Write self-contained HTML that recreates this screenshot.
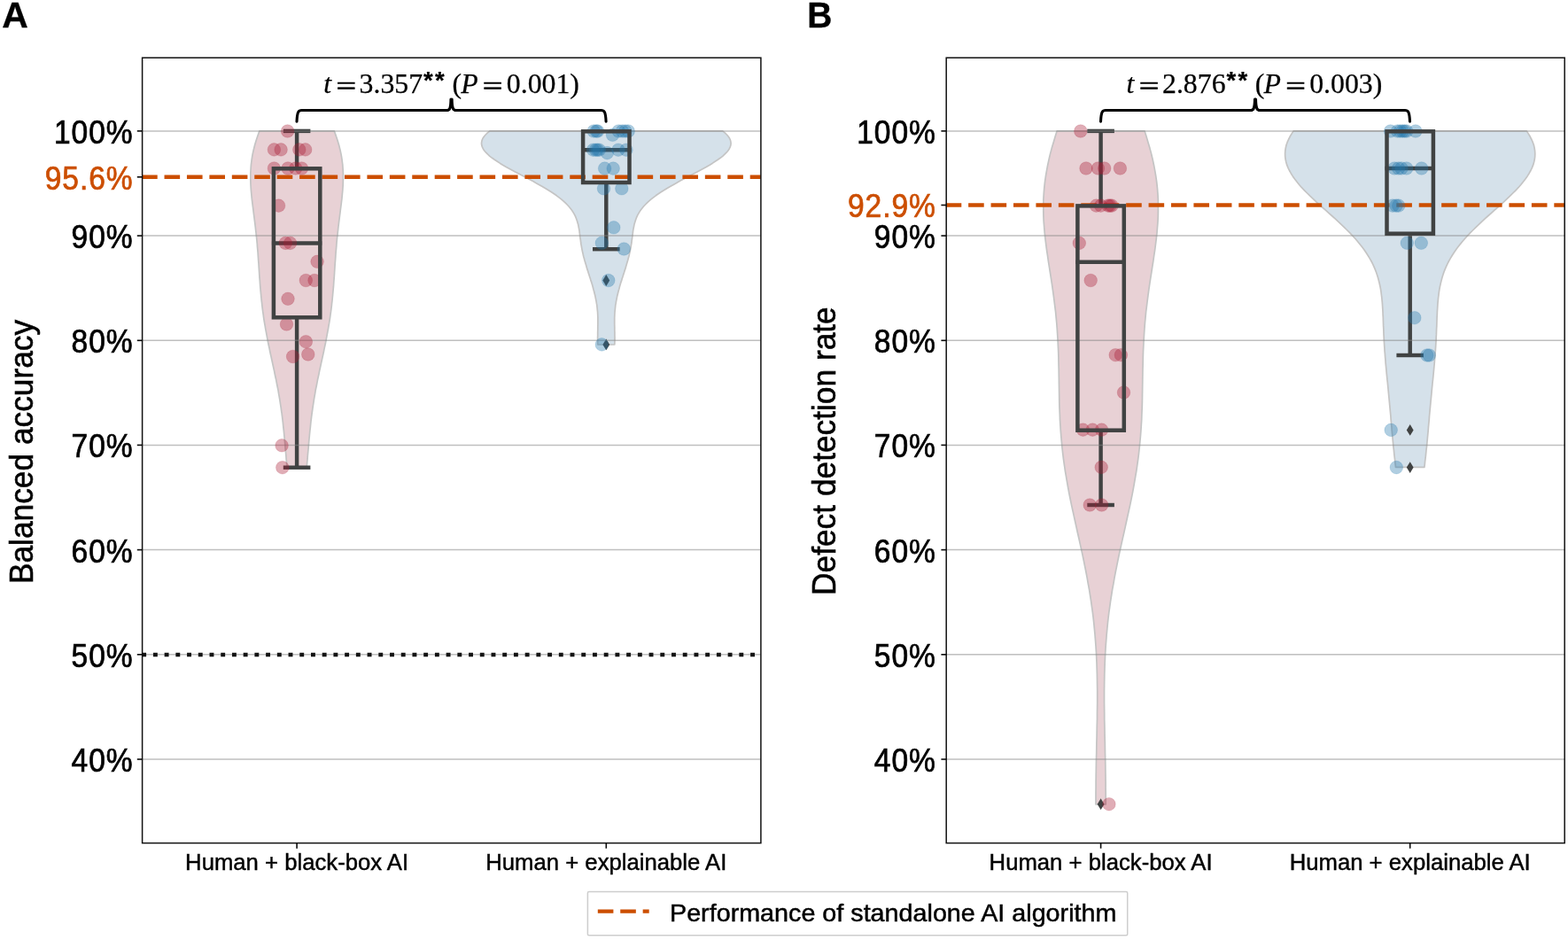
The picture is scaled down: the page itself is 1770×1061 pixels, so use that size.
<!DOCTYPE html>
<html lang="en">
<head>
<meta charset="utf-8">
<title>Human + AI performance: balanced accuracy and defect detection rate</title>
<style>
html,body{margin:0;padding:0;background:#fff;}
body{width:1770px;height:1061px;overflow:hidden;}
svg{display:block;font-family:"Liberation Sans",sans-serif;fill:#000;}
</style>
</head>
<body>
<svg width="1770" height="1061" viewBox="0 0 1770 1061">
<rect width="1770" height="1061" fill="#fff"/>
<g id="panel-A">
<path d="M324.0,527.3 L323.7,524.1 L323.4,520.9 L323.1,517.7 L322.9,514.5 L322.6,511.3 L322.3,508.1 L322.0,504.9 L321.8,501.8 L321.5,498.6 L321.2,495.4 L320.9,492.2 L320.6,489.0 L320.3,485.8 L319.9,482.6 L319.6,479.4 L319.3,476.3 L318.9,473.1 L318.5,469.9 L318.1,466.7 L317.6,463.5 L317.2,460.3 L316.7,457.1 L316.2,453.9 L315.7,450.7 L315.2,447.6 L314.6,444.4 L314.1,441.2 L313.5,438.0 L312.8,434.8 L312.2,431.6 L311.6,428.4 L310.9,425.2 L310.2,422.1 L309.6,418.9 L308.9,415.7 L308.2,412.5 L307.5,409.3 L306.8,406.1 L306.1,402.9 L305.4,399.7 L304.7,396.6 L304.1,393.4 L303.4,390.2 L302.7,387.0 L302.1,383.8 L301.5,380.6 L300.9,377.4 L300.3,374.2 L299.7,371.1 L299.2,367.9 L298.6,364.7 L298.1,361.5 L297.6,358.3 L297.2,355.1 L296.7,351.9 L296.3,348.7 L295.9,345.5 L295.6,342.4 L295.2,339.2 L294.9,336.0 L294.6,332.8 L294.3,329.6 L294.0,326.4 L293.7,323.2 L293.5,320.0 L293.3,316.9 L293.0,313.7 L292.8,310.5 L292.6,307.3 L292.4,304.1 L292.2,300.9 L292.0,297.7 L291.7,294.5 L291.5,291.4 L291.3,288.2 L291.1,285.0 L290.8,281.8 L290.5,278.6 L290.3,275.4 L290.0,272.2 L289.7,269.0 L289.3,265.9 L289.0,262.7 L288.6,259.5 L288.3,256.3 L287.9,253.1 L287.5,249.9 L287.1,246.7 L286.7,243.5 L286.3,240.3 L285.9,237.2 L285.5,234.0 L285.1,230.8 L284.7,227.6 L284.3,224.4 L284.0,221.2 L283.7,218.0 L283.4,214.8 L283.2,211.7 L283.0,208.5 L282.9,205.3 L282.8,202.1 L282.8,198.9 L282.8,195.7 L283.0,192.5 L283.2,189.3 L283.4,186.2 L283.8,183.0 L284.2,179.8 L284.7,176.6 L285.3,173.4 L286.0,170.2 L286.8,167.0 L287.6,163.8 L288.5,160.7 L289.5,157.5 L290.6,154.3 L291.7,151.1 L292.9,147.9 L377.3,147.9 L378.5,151.1 L379.6,154.3 L380.7,157.5 L381.7,160.7 L382.6,163.8 L383.4,167.0 L384.2,170.2 L384.9,173.4 L385.5,176.6 L386.0,179.8 L386.4,183.0 L386.8,186.2 L387.0,189.3 L387.2,192.5 L387.4,195.7 L387.4,198.9 L387.4,202.1 L387.3,205.3 L387.2,208.5 L387.0,211.7 L386.8,214.8 L386.5,218.0 L386.2,221.2 L385.9,224.4 L385.5,227.6 L385.1,230.8 L384.7,234.0 L384.3,237.2 L383.9,240.3 L383.5,243.5 L383.1,246.7 L382.7,249.9 L382.3,253.1 L381.9,256.3 L381.6,259.5 L381.2,262.7 L380.9,265.9 L380.5,269.0 L380.2,272.2 L379.9,275.4 L379.7,278.6 L379.4,281.8 L379.1,285.0 L378.9,288.2 L378.7,291.4 L378.5,294.5 L378.2,297.7 L378.0,300.9 L377.8,304.1 L377.6,307.3 L377.4,310.5 L377.2,313.7 L376.9,316.9 L376.7,320.0 L376.5,323.2 L376.2,326.4 L375.9,329.6 L375.6,332.8 L375.3,336.0 L375.0,339.2 L374.6,342.4 L374.3,345.5 L373.9,348.7 L373.5,351.9 L373.0,355.1 L372.6,358.3 L372.1,361.5 L371.6,364.7 L371.0,367.9 L370.5,371.1 L369.9,374.2 L369.3,377.4 L368.7,380.6 L368.1,383.8 L367.5,387.0 L366.8,390.2 L366.1,393.4 L365.5,396.6 L364.8,399.7 L364.1,402.9 L363.4,406.1 L362.7,409.3 L362.0,412.5 L361.3,415.7 L360.6,418.9 L360.0,422.1 L359.3,425.2 L358.6,428.4 L358.0,431.6 L357.4,434.8 L356.7,438.0 L356.1,441.2 L355.6,444.4 L355.0,447.6 L354.5,450.7 L354.0,453.9 L353.5,457.1 L353.0,460.3 L352.6,463.5 L352.1,466.7 L351.7,469.9 L351.3,473.1 L350.9,476.3 L350.6,479.4 L350.3,482.6 L349.9,485.8 L349.6,489.0 L349.3,492.2 L349.0,495.4 L348.7,498.6 L348.4,501.8 L348.2,504.9 L347.9,508.1 L347.6,511.3 L347.3,514.5 L347.1,517.7 L346.8,520.9 L346.5,524.1 L346.2,527.3 Z" fill="#8a1a2e" fill-opacity="0.2" stroke="#c4c4c4" stroke-width="1.7" stroke-linejoin="round"/>
<path d="M674.8,389.0 L674.7,387.0 L674.7,384.9 L674.6,382.9 L674.6,380.9 L674.7,378.9 L674.7,376.8 L674.7,374.8 L674.8,372.8 L674.8,370.8 L674.8,368.7 L674.9,366.7 L674.9,364.7 L674.9,362.6 L674.9,360.6 L674.9,358.6 L674.8,356.6 L674.7,354.5 L674.6,352.5 L674.4,350.5 L674.2,348.5 L674.0,346.4 L673.8,344.4 L673.4,342.4 L673.1,340.4 L672.7,338.3 L672.3,336.3 L671.9,334.3 L671.4,332.3 L670.9,330.2 L670.4,328.2 L669.8,326.2 L669.3,324.2 L668.7,322.1 L668.1,320.1 L667.5,318.1 L666.8,316.1 L666.2,314.0 L665.5,312.0 L664.9,310.0 L664.2,307.9 L663.6,305.9 L662.9,303.9 L662.3,301.9 L661.7,299.8 L661.1,297.8 L660.5,295.8 L659.9,293.8 L659.4,291.7 L658.8,289.7 L658.3,287.7 L657.9,285.7 L657.4,283.6 L657.0,281.6 L656.6,279.6 L656.3,277.6 L655.9,275.5 L655.6,273.5 L655.4,271.5 L655.1,269.5 L654.8,267.4 L654.6,265.4 L654.3,263.4 L654.1,261.4 L653.8,259.3 L653.4,257.3 L653.0,255.3 L652.6,253.2 L652.0,251.2 L651.4,249.2 L650.7,247.2 L649.9,245.1 L649.0,243.1 L647.9,241.1 L646.7,239.1 L645.3,237.0 L643.7,235.0 L642.1,233.0 L640.2,231.0 L638.1,228.9 L635.9,226.9 L633.6,224.9 L631.0,222.9 L628.3,220.8 L625.4,218.8 L622.4,216.8 L619.2,214.8 L615.9,212.7 L612.5,210.7 L608.9,208.7 L605.3,206.7 L601.6,204.6 L597.8,202.6 L594.0,200.6 L590.2,198.5 L586.4,196.5 L582.5,194.5 L578.8,192.5 L575.1,190.4 L571.4,188.4 L567.9,186.4 L564.6,184.4 L561.4,182.3 L558.3,180.3 L555.5,178.3 L552.9,176.3 L550.6,174.2 L548.6,172.2 L546.9,170.2 L545.5,168.2 L544.5,166.1 L543.8,164.1 L543.5,162.1 L543.7,160.1 L544.2,158.0 L545.1,156.0 L546.5,154.0 L548.2,152.0 L550.4,149.9 L552.9,147.9 L815.7,147.9 L818.2,149.9 L820.4,152.0 L822.1,154.0 L823.5,156.0 L824.4,158.0 L824.9,160.1 L825.1,162.1 L824.8,164.1 L824.1,166.1 L823.1,168.2 L821.7,170.2 L820.0,172.2 L818.0,174.2 L815.7,176.3 L813.1,178.3 L810.3,180.3 L807.2,182.3 L804.0,184.4 L800.7,186.4 L797.2,188.4 L793.5,190.4 L789.8,192.5 L786.1,194.5 L782.2,196.5 L778.4,198.5 L774.6,200.6 L770.8,202.6 L767.0,204.6 L763.3,206.7 L759.7,208.7 L756.1,210.7 L752.7,212.7 L749.4,214.8 L746.2,216.8 L743.2,218.8 L740.3,220.8 L737.6,222.9 L735.0,224.9 L732.7,226.9 L730.5,228.9 L728.4,231.0 L726.5,233.0 L724.9,235.0 L723.3,237.0 L721.9,239.1 L720.7,241.1 L719.6,243.1 L718.7,245.1 L717.9,247.2 L717.2,249.2 L716.6,251.2 L716.0,253.2 L715.6,255.3 L715.2,257.3 L714.8,259.3 L714.5,261.4 L714.3,263.4 L714.0,265.4 L713.8,267.4 L713.5,269.5 L713.2,271.5 L713.0,273.5 L712.7,275.5 L712.3,277.6 L712.0,279.6 L711.6,281.6 L711.2,283.6 L710.7,285.7 L710.3,287.7 L709.8,289.7 L709.2,291.7 L708.7,293.8 L708.1,295.8 L707.5,297.8 L706.9,299.8 L706.3,301.9 L705.7,303.9 L705.0,305.9 L704.4,307.9 L703.7,310.0 L703.1,312.0 L702.4,314.0 L701.8,316.1 L701.1,318.1 L700.5,320.1 L699.9,322.1 L699.3,324.2 L698.8,326.2 L698.2,328.2 L697.7,330.2 L697.2,332.3 L696.7,334.3 L696.3,336.3 L695.9,338.3 L695.5,340.4 L695.2,342.4 L694.8,344.4 L694.6,346.4 L694.4,348.5 L694.2,350.5 L694.0,352.5 L693.9,354.5 L693.8,356.6 L693.7,358.6 L693.7,360.6 L693.7,362.6 L693.7,364.7 L693.7,366.7 L693.8,368.7 L693.8,370.8 L693.8,372.8 L693.9,374.8 L693.9,376.8 L693.9,378.9 L694.0,380.9 L694.0,382.9 L693.9,384.9 L693.9,387.0 L693.8,389.0 Z" fill="#2d6996" fill-opacity="0.2" stroke="#c4c4c4" stroke-width="1.7" stroke-linejoin="round"/>
<path d="M684.3,310.1 l3.9,6.4 l-3.9,6.4 l-3.9,-6.4 Z" fill="#404242"/>
<path d="M684.3,382.5 l3.9,6.4 l-3.9,6.4 l-3.9,-6.4 Z" fill="#404242"/>
<g stroke="#404242" stroke-width="4.45" fill="none">
<line x1="306.9" x2="363.3" y1="274.5" y2="274.5"/>
<line x1="335.1" x2="335.1" y1="190.3" y2="147.9"/>
<line x1="319.8" x2="350.4" y1="147.9" y2="147.9"/>
<line x1="335.1" x2="335.1" y1="358.3" y2="527.7"/>
<line x1="319.8" x2="350.4" y1="527.7" y2="527.7"/>
<line x1="656.1" x2="712.5" y1="169.2" y2="169.2"/>
<line x1="684.3" x2="684.3" y1="206.0" y2="281.2"/>
<line x1="669.0" x2="699.6" y1="281.2" y2="281.2"/>
</g>
<g stroke="#848484" stroke-opacity="0.52" stroke-width="1.5">
<line x1="160.6" x2="858.9" y1="857.0" y2="857.0"/>
<line x1="160.6" x2="858.9" y1="738.8" y2="738.8"/>
<line x1="160.6" x2="858.9" y1="620.6" y2="620.6"/>
<line x1="160.6" x2="858.9" y1="502.4" y2="502.4"/>
<line x1="160.6" x2="858.9" y1="384.3" y2="384.3"/>
<line x1="160.6" x2="858.9" y1="266.1" y2="266.1"/>
<line x1="160.6" x2="858.9" y1="147.9" y2="147.9"/>
</g>
<line x1="160.2" x2="858.9" y1="739.0" y2="739.0" stroke="#141414" stroke-width="4.6" stroke-dasharray="4.9 7.82"/>
<line x1="160.1" x2="858.9" y1="199.8" y2="199.8" stroke="#cc4e00" stroke-width="4.45" stroke-dasharray="17.6 7.83"/>
<g fill="#a81c36" fill-opacity="0.36" stroke="#a81c36" stroke-opacity="0.22" stroke-width="0.8">
<circle cx="324.6" cy="148.0" r="7.3"/>
<circle cx="309.4" cy="168.9" r="7.3"/>
<circle cx="317.1" cy="168.9" r="7.3"/>
<circle cx="337.8" cy="168.9" r="7.3"/>
<circle cx="344.7" cy="168.9" r="7.3"/>
<circle cx="309.4" cy="190.0" r="7.3"/>
<circle cx="325.0" cy="190.0" r="7.3"/>
<circle cx="333.7" cy="190.0" r="7.3"/>
<circle cx="340.5" cy="190.0" r="7.3"/>
<circle cx="314.6" cy="232.1" r="7.3"/>
<circle cx="322.3" cy="274.4" r="7.3"/>
<circle cx="327.6" cy="274.4" r="7.3"/>
<circle cx="358.1" cy="295.3" r="7.3"/>
<circle cx="345.3" cy="316.5" r="7.3"/>
<circle cx="355.0" cy="316.5" r="7.3"/>
<circle cx="325.0" cy="337.3" r="7.3"/>
<circle cx="323.5" cy="366.0" r="7.3"/>
<circle cx="345.3" cy="385.7" r="7.3"/>
<circle cx="347.8" cy="400.0" r="7.3"/>
<circle cx="330.6" cy="402.5" r="7.3"/>
<circle cx="318.1" cy="502.8" r="7.3"/>
<circle cx="318.8" cy="527.7" r="7.3"/>
</g>
<g fill="#2577ad" fill-opacity="0.36" stroke="#2577ad" stroke-opacity="0.22" stroke-width="0.8">
<circle cx="670.2" cy="148.0" r="7.3"/>
<circle cx="673.2" cy="148.0" r="7.3"/>
<circle cx="674.6" cy="148.0" r="7.3"/>
<circle cx="691.5" cy="152.3" r="7.3"/>
<circle cx="698.2" cy="148.0" r="7.3"/>
<circle cx="702.4" cy="148.0" r="7.3"/>
<circle cx="705.8" cy="148.0" r="7.3"/>
<circle cx="709.2" cy="148.0" r="7.3"/>
<circle cx="669.6" cy="169.2" r="7.3"/>
<circle cx="672.5" cy="169.2" r="7.3"/>
<circle cx="674.5" cy="169.2" r="7.3"/>
<circle cx="676.4" cy="169.2" r="7.3"/>
<circle cx="685.4" cy="172.6" r="7.3"/>
<circle cx="697.9" cy="169.2" r="7.3"/>
<circle cx="706.9" cy="169.2" r="7.3"/>
<circle cx="682.6" cy="190.1" r="7.3"/>
<circle cx="692.2" cy="190.1" r="7.3"/>
<circle cx="681.5" cy="212.8" r="7.3"/>
<circle cx="701.8" cy="212.8" r="7.3"/>
<circle cx="692.8" cy="256.8" r="7.3"/>
<circle cx="679.3" cy="274.3" r="7.3"/>
<circle cx="704.3" cy="281.0" r="7.3"/>
<circle cx="686.8" cy="316.5" r="7.3"/>
<circle cx="679.3" cy="388.9" r="7.3"/>
</g>
<rect x="308.9" y="190.3" width="52.4" height="168.0" fill="none" stroke="#404242" stroke-width="4.5"/>
<rect x="658.1" y="148.3" width="52.4" height="57.7" fill="none" stroke="#404242" stroke-width="4.5"/>
<rect x="160.6" y="65.2" width="698.3" height="886.4" fill="none" stroke="#111" stroke-width="1.5"/>
<g stroke="#0a0a0a" stroke-width="1.6">
<line x1="154.8" x2="160.6" y1="857.0" y2="857.0"/>
<line x1="154.8" x2="160.6" y1="738.8" y2="738.8"/>
<line x1="154.8" x2="160.6" y1="620.6" y2="620.6"/>
<line x1="154.8" x2="160.6" y1="502.4" y2="502.4"/>
<line x1="154.8" x2="160.6" y1="384.3" y2="384.3"/>
<line x1="154.8" x2="160.6" y1="266.1" y2="266.1"/>
<line x1="154.8" x2="160.6" y1="147.9" y2="147.9"/>
<line x1="154.8" x2="160.6" y1="199.8" y2="199.8"/>
<line x1="335.1" x2="335.1" y1="951.65" y2="957.65"/>
<line x1="684.3" x2="684.3" y1="951.65" y2="957.65"/>
</g>
<text transform="translate(150.6,870.9) scale(0.95,1.022)" font-size="35.3" text-anchor="end" letter-spacing="1.03" fill="#000" stroke="#000" stroke-width="0.7">40%</text>
<text transform="translate(150.6,752.7) scale(0.95,1.022)" font-size="35.3" text-anchor="end" letter-spacing="1.03" fill="#000" stroke="#000" stroke-width="0.7">50%</text>
<text transform="translate(150.6,634.5) scale(0.95,1.022)" font-size="35.3" text-anchor="end" letter-spacing="1.03" fill="#000" stroke="#000" stroke-width="0.7">60%</text>
<text transform="translate(150.6,516.3) scale(0.95,1.022)" font-size="35.3" text-anchor="end" letter-spacing="1.03" fill="#000" stroke="#000" stroke-width="0.7">70%</text>
<text transform="translate(150.6,398.2) scale(0.95,1.022)" font-size="35.3" text-anchor="end" letter-spacing="1.03" fill="#000" stroke="#000" stroke-width="0.7">80%</text>
<text transform="translate(150.6,280.0) scale(0.95,1.022)" font-size="35.3" text-anchor="end" letter-spacing="1.03" fill="#000" stroke="#000" stroke-width="0.7">90%</text>
<text transform="translate(150.6,161.8) scale(0.95,1.022)" font-size="35.3" text-anchor="end" letter-spacing="1.03" fill="#000" stroke="#000" stroke-width="0.7">100%</text>
<text transform="translate(150.6,213.7) scale(0.95,1.022)" font-size="35.3" text-anchor="end" letter-spacing="1.03" fill="#cc4e00" stroke="#cc4e00" stroke-width="0.7">95.6%</text>
<text transform="translate(335.1,981.9) scale(1,1.025)" font-size="25.7" text-anchor="middle" fill="#000" stroke="#000" stroke-width="0.45">Human + black-box AI</text>
<text transform="translate(684.3,981.9) scale(1,1.025)" font-size="25.7" text-anchor="middle" fill="#000" stroke="#000" stroke-width="0.45">Human + explainable AI</text>
<text transform="translate(37.0,510.0) rotate(-90) scale(1,1.03)" font-size="35.3" text-anchor="middle" fill="#000" stroke="#000" stroke-width="0.6">Balanced accuracy</text>
<path d="M335.0,137.3 C335.3,131 335.8,128 336.8,126.3 C337.6,124.8 338.6,124.5 340.5,124.5 L504.4,124.5 C507.4,124.5 508.9,122.7 509.0,112.1 M684.1,137.3 C683.8,131 683.3,128 682.3,126.3 C681.5,124.8 680.5,124.5 678.6,124.5 L514.8,124.5 C511.8,124.5 510.2,122.7 510.1,112.1" fill="none" stroke="#000" stroke-width="3.1" stroke-linecap="round" stroke-linejoin="round"/>
<text y="105" font-family="'Liberation Serif', serif" font-size="31.8" stroke="#000" stroke-width="0.25"><tspan x="365.2" font-style="italic">t </tspan><tspan x="379.4" y="106.7" font-size="30" textLength="22.6" lengthAdjust="spacingAndGlyphs" stroke="#000" stroke-width="0.7">=</tspan><tspan y="105" font-size="1"> </tspan><tspan x="405.6" y="105">3.357</tspan><tspan x="478.0 491.1" y="99.7" font-family="'Liberation Sans', sans-serif" font-weight="bold" font-size="27.5">**</tspan><tspan y="105" font-size="1"> </tspan><tspan x="510.4" y="105">(</tspan><tspan x="520.2" font-style="italic">P </tspan><tspan x="544.8" y="106.7" font-size="30" textLength="22.6" lengthAdjust="spacingAndGlyphs" stroke="#000" stroke-width="0.7">=</tspan><tspan y="105" font-size="1"> </tspan><tspan x="571.8" y="105">0.001)</tspan></text>
</g>
<g id="panel-B">
<path d="M1237.0,907.8 L1237.0,901.4 L1237.0,895.0 L1237.1,888.6 L1237.1,882.3 L1237.2,875.9 L1237.3,869.5 L1237.4,863.1 L1237.5,856.7 L1237.7,850.3 L1237.8,843.9 L1237.9,837.6 L1238.1,831.2 L1238.2,824.8 L1238.3,818.4 L1238.5,812.0 L1238.5,805.6 L1238.6,799.2 L1238.7,792.9 L1238.7,786.5 L1238.7,780.1 L1238.6,773.7 L1238.5,767.3 L1238.4,760.9 L1238.2,754.5 L1238.0,748.2 L1237.7,741.8 L1237.4,735.4 L1237.0,729.0 L1236.5,722.6 L1236.0,716.2 L1235.4,709.8 L1234.8,703.5 L1234.1,697.1 L1233.3,690.7 L1232.4,684.3 L1231.5,677.9 L1230.5,671.5 L1229.5,665.1 L1228.3,658.8 L1227.2,652.4 L1226.0,646.0 L1224.7,639.6 L1223.4,633.2 L1222.1,626.8 L1220.7,620.4 L1219.3,614.1 L1217.9,607.7 L1216.4,601.3 L1215.0,594.9 L1213.6,588.5 L1212.2,582.1 L1210.8,575.7 L1209.4,569.4 L1208.1,563.0 L1206.8,556.6 L1205.6,550.2 L1204.5,543.8 L1203.4,537.4 L1202.3,531.0 L1201.4,524.7 L1200.5,518.3 L1199.7,511.9 L1199.0,505.5 L1198.4,499.1 L1197.8,492.7 L1197.3,486.3 L1196.9,480.0 L1196.5,473.6 L1196.3,467.2 L1196.0,460.8 L1195.8,454.4 L1195.7,448.0 L1195.6,441.6 L1195.5,435.3 L1195.4,428.9 L1195.3,422.5 L1195.2,416.1 L1195.0,409.7 L1194.9,403.3 L1194.7,396.9 L1194.4,390.6 L1194.1,384.2 L1193.7,377.8 L1193.3,371.4 L1192.8,365.0 L1192.2,358.6 L1191.6,352.2 L1190.8,345.9 L1190.0,339.5 L1189.2,333.1 L1188.3,326.7 L1187.4,320.3 L1186.4,313.9 L1185.4,307.5 L1184.4,301.2 L1183.4,294.8 L1182.5,288.4 L1181.5,282.0 L1180.7,275.6 L1179.9,269.2 L1179.2,262.8 L1178.7,256.5 L1178.2,250.1 L1177.9,243.7 L1177.8,237.3 L1177.8,230.9 L1177.9,224.5 L1178.3,218.1 L1178.8,211.8 L1179.5,205.4 L1180.4,199.0 L1181.5,192.6 L1182.7,186.2 L1184.1,179.8 L1185.6,173.4 L1187.3,167.1 L1189.2,160.7 L1191.1,154.3 L1193.1,147.9 L1292.1,147.9 L1294.1,154.3 L1296.0,160.7 L1297.9,167.1 L1299.6,173.4 L1301.1,179.8 L1302.5,186.2 L1303.7,192.6 L1304.8,199.0 L1305.7,205.4 L1306.4,211.8 L1306.9,218.1 L1307.3,224.5 L1307.4,230.9 L1307.4,237.3 L1307.3,243.7 L1307.0,250.1 L1306.5,256.5 L1306.0,262.8 L1305.3,269.2 L1304.5,275.6 L1303.7,282.0 L1302.7,288.4 L1301.8,294.8 L1300.8,301.2 L1299.8,307.5 L1298.8,313.9 L1297.8,320.3 L1296.9,326.7 L1296.0,333.1 L1295.2,339.5 L1294.4,345.9 L1293.6,352.2 L1293.0,358.6 L1292.4,365.0 L1291.9,371.4 L1291.5,377.8 L1291.1,384.2 L1290.8,390.6 L1290.5,396.9 L1290.3,403.3 L1290.2,409.7 L1290.0,416.1 L1289.9,422.5 L1289.8,428.9 L1289.7,435.3 L1289.6,441.6 L1289.5,448.0 L1289.4,454.4 L1289.2,460.8 L1288.9,467.2 L1288.7,473.6 L1288.3,480.0 L1287.9,486.3 L1287.4,492.7 L1286.8,499.1 L1286.2,505.5 L1285.5,511.9 L1284.7,518.3 L1283.8,524.7 L1282.9,531.0 L1281.8,537.4 L1280.7,543.8 L1279.6,550.2 L1278.4,556.6 L1277.1,563.0 L1275.8,569.4 L1274.4,575.7 L1273.0,582.1 L1271.6,588.5 L1270.2,594.9 L1268.8,601.3 L1267.3,607.7 L1265.9,614.1 L1264.5,620.4 L1263.1,626.8 L1261.8,633.2 L1260.5,639.6 L1259.2,646.0 L1258.0,652.4 L1256.9,658.8 L1255.7,665.1 L1254.7,671.5 L1253.7,677.9 L1252.8,684.3 L1251.9,690.7 L1251.1,697.1 L1250.4,703.5 L1249.8,709.8 L1249.2,716.2 L1248.7,722.6 L1248.2,729.0 L1247.8,735.4 L1247.5,741.8 L1247.2,748.2 L1247.0,754.5 L1246.8,760.9 L1246.7,767.3 L1246.6,773.7 L1246.5,780.1 L1246.5,786.5 L1246.5,792.9 L1246.6,799.2 L1246.7,805.6 L1246.7,812.0 L1246.9,818.4 L1247.0,824.8 L1247.1,831.2 L1247.3,837.6 L1247.4,843.9 L1247.5,850.3 L1247.7,856.7 L1247.8,863.1 L1247.9,869.5 L1248.0,875.9 L1248.1,882.3 L1248.1,888.6 L1248.2,895.0 L1248.2,901.4 L1248.2,907.8 Z" fill="#8a1a2e" fill-opacity="0.2" stroke="#c4c4c4" stroke-width="1.7" stroke-linejoin="round"/>
<path d="M1575.5,527.3 L1575.1,524.1 L1574.8,520.9 L1574.4,517.7 L1574.0,514.5 L1573.7,511.3 L1573.4,508.1 L1573.0,504.9 L1572.7,501.8 L1572.4,498.6 L1572.1,495.4 L1571.8,492.2 L1571.5,489.0 L1571.2,485.8 L1571.0,482.6 L1570.7,479.4 L1570.4,476.3 L1570.1,473.1 L1569.9,469.9 L1569.6,466.7 L1569.3,463.5 L1569.0,460.3 L1568.7,457.1 L1568.4,453.9 L1568.1,450.7 L1567.8,447.6 L1567.5,444.4 L1567.2,441.2 L1566.9,438.0 L1566.6,434.8 L1566.3,431.6 L1565.9,428.4 L1565.6,425.2 L1565.3,422.1 L1565.0,418.9 L1564.7,415.7 L1564.4,412.5 L1564.1,409.3 L1563.9,406.1 L1563.6,402.9 L1563.4,399.7 L1563.1,396.6 L1562.9,393.4 L1562.7,390.2 L1562.5,387.0 L1562.3,383.8 L1562.2,380.6 L1562.0,377.4 L1561.9,374.2 L1561.8,371.1 L1561.6,367.9 L1561.5,364.7 L1561.4,361.5 L1561.3,358.3 L1561.1,355.1 L1561.0,351.9 L1560.8,348.7 L1560.6,345.5 L1560.4,342.4 L1560.1,339.2 L1559.8,336.0 L1559.4,332.8 L1559.0,329.6 L1558.5,326.4 L1557.9,323.2 L1557.2,320.0 L1556.4,316.9 L1555.6,313.7 L1554.6,310.5 L1553.5,307.3 L1552.3,304.1 L1550.9,300.9 L1549.4,297.7 L1547.8,294.5 L1546.0,291.4 L1544.1,288.2 L1542.0,285.0 L1539.8,281.8 L1537.4,278.6 L1534.9,275.4 L1532.3,272.2 L1529.5,269.0 L1526.6,265.9 L1523.6,262.7 L1520.4,259.5 L1517.2,256.3 L1513.8,253.1 L1510.4,249.9 L1506.9,246.7 L1503.4,243.5 L1499.8,240.3 L1496.3,237.2 L1492.7,234.0 L1489.1,230.8 L1485.6,227.6 L1482.2,224.4 L1478.8,221.2 L1475.6,218.0 L1472.4,214.8 L1469.4,211.7 L1466.6,208.5 L1464.0,205.3 L1461.5,202.1 L1459.3,198.9 L1457.3,195.7 L1455.5,192.5 L1454.0,189.3 L1452.7,186.2 L1451.8,183.0 L1451.1,179.8 L1450.7,176.6 L1450.6,173.4 L1450.8,170.2 L1451.3,167.0 L1452.0,163.8 L1453.1,160.7 L1454.5,157.5 L1456.1,154.3 L1458.0,151.1 L1460.1,147.9 L1723.3,147.9 L1725.4,151.1 L1727.3,154.3 L1728.9,157.5 L1730.3,160.7 L1731.4,163.8 L1732.1,167.0 L1732.6,170.2 L1732.8,173.4 L1732.7,176.6 L1732.3,179.8 L1731.6,183.0 L1730.7,186.2 L1729.4,189.3 L1727.9,192.5 L1726.1,195.7 L1724.1,198.9 L1721.9,202.1 L1719.4,205.3 L1716.8,208.5 L1714.0,211.7 L1711.0,214.8 L1707.8,218.0 L1704.6,221.2 L1701.2,224.4 L1697.8,227.6 L1694.3,230.8 L1690.7,234.0 L1687.1,237.2 L1683.6,240.3 L1680.0,243.5 L1676.5,246.7 L1673.0,249.9 L1669.6,253.1 L1666.2,256.3 L1663.0,259.5 L1659.8,262.7 L1656.8,265.9 L1653.9,269.0 L1651.1,272.2 L1648.5,275.4 L1646.0,278.6 L1643.6,281.8 L1641.4,285.0 L1639.3,288.2 L1637.4,291.4 L1635.6,294.5 L1634.0,297.7 L1632.5,300.9 L1631.1,304.1 L1629.9,307.3 L1628.8,310.5 L1627.8,313.7 L1627.0,316.9 L1626.2,320.0 L1625.5,323.2 L1624.9,326.4 L1624.4,329.6 L1624.0,332.8 L1623.6,336.0 L1623.3,339.2 L1623.0,342.4 L1622.8,345.5 L1622.6,348.7 L1622.4,351.9 L1622.3,355.1 L1622.1,358.3 L1622.0,361.5 L1621.9,364.7 L1621.8,367.9 L1621.6,371.1 L1621.5,374.2 L1621.4,377.4 L1621.2,380.6 L1621.1,383.8 L1620.9,387.0 L1620.7,390.2 L1620.5,393.4 L1620.3,396.6 L1620.0,399.7 L1619.8,402.9 L1619.5,406.1 L1619.3,409.3 L1619.0,412.5 L1618.7,415.7 L1618.4,418.9 L1618.1,422.1 L1617.8,425.2 L1617.5,428.4 L1617.1,431.6 L1616.8,434.8 L1616.5,438.0 L1616.2,441.2 L1615.9,444.4 L1615.6,447.6 L1615.3,450.7 L1615.0,453.9 L1614.7,457.1 L1614.4,460.3 L1614.1,463.5 L1613.8,466.7 L1613.5,469.9 L1613.3,473.1 L1613.0,476.3 L1612.7,479.4 L1612.4,482.6 L1612.2,485.8 L1611.9,489.0 L1611.6,492.2 L1611.3,495.4 L1611.0,498.6 L1610.7,501.8 L1610.4,504.9 L1610.0,508.1 L1609.7,511.3 L1609.4,514.5 L1609.0,517.7 L1608.6,520.9 L1608.3,524.1 L1607.9,527.3 Z" fill="#2d6996" fill-opacity="0.2" stroke="#c4c4c4" stroke-width="1.7" stroke-linejoin="round"/>
<path d="M1242.6,901.3 l3.9,6.4 l-3.9,6.4 l-3.9,-6.4 Z" fill="#404242"/>
<path d="M1591.7,479.0 l3.9,6.4 l-3.9,6.4 l-3.9,-6.4 Z" fill="#404242"/>
<path d="M1591.7,521.2 l3.9,6.4 l-3.9,6.4 l-3.9,-6.4 Z" fill="#404242"/>
<g stroke="#404242" stroke-width="4.45" fill="none">
<line x1="1214.4" x2="1270.8" y1="295.8" y2="295.8"/>
<line x1="1242.6" x2="1242.6" y1="232.4" y2="147.9"/>
<line x1="1227.3" x2="1257.9" y1="147.9" y2="147.9"/>
<line x1="1242.6" x2="1242.6" y1="485.7" y2="570.0"/>
<line x1="1227.3" x2="1257.9" y1="570.0" y2="570.0"/>
<line x1="1563.5" x2="1619.9" y1="190.0" y2="190.0"/>
<line x1="1591.7" x2="1591.7" y1="263.7" y2="401.0"/>
<line x1="1576.4" x2="1607.0" y1="401.0" y2="401.0"/>
</g>
<g stroke="#848484" stroke-opacity="0.52" stroke-width="1.5">
<line x1="1068.2" x2="1766.2" y1="857.0" y2="857.0"/>
<line x1="1068.2" x2="1766.2" y1="738.8" y2="738.8"/>
<line x1="1068.2" x2="1766.2" y1="620.6" y2="620.6"/>
<line x1="1068.2" x2="1766.2" y1="502.4" y2="502.4"/>
<line x1="1068.2" x2="1766.2" y1="384.3" y2="384.3"/>
<line x1="1068.2" x2="1766.2" y1="266.1" y2="266.1"/>
<line x1="1068.2" x2="1766.2" y1="147.9" y2="147.9"/>
</g>
<line x1="1067.7" x2="1766.2" y1="231.5" y2="231.5" stroke="#cc4e00" stroke-width="4.45" stroke-dasharray="17.6 7.83"/>
<g fill="#a81c36" fill-opacity="0.36" stroke="#a81c36" stroke-opacity="0.22" stroke-width="0.8">
<circle cx="1219.8" cy="148.0" r="7.3"/>
<circle cx="1226.0" cy="190.0" r="7.3"/>
<circle cx="1239.5" cy="190.0" r="7.3"/>
<circle cx="1246.7" cy="190.0" r="7.3"/>
<circle cx="1264.4" cy="190.0" r="7.3"/>
<circle cx="1237.4" cy="232.1" r="7.3"/>
<circle cx="1242.6" cy="232.1" r="7.3"/>
<circle cx="1250.9" cy="232.1" r="7.3"/>
<circle cx="1253.0" cy="232.1" r="7.3"/>
<circle cx="1255.0" cy="232.1" r="7.3"/>
<circle cx="1218.3" cy="274.4" r="7.3"/>
<circle cx="1231.2" cy="316.5" r="7.3"/>
<circle cx="1259.2" cy="400.7" r="7.3"/>
<circle cx="1265.4" cy="400.7" r="7.3"/>
<circle cx="1268.5" cy="443.0" r="7.3"/>
<circle cx="1222.5" cy="485.1" r="7.3"/>
<circle cx="1233.3" cy="485.1" r="7.3"/>
<circle cx="1243.6" cy="485.1" r="7.3"/>
<circle cx="1243.2" cy="527.4" r="7.3"/>
<circle cx="1230.2" cy="570.0" r="7.3"/>
<circle cx="1243.6" cy="570.0" r="7.3"/>
<circle cx="1251.9" cy="907.7" r="7.3"/>
</g>
<g fill="#2577ad" fill-opacity="0.36" stroke="#2577ad" stroke-opacity="0.22" stroke-width="0.8">
<circle cx="1569.6" cy="148.0" r="7.3"/>
<circle cx="1577.5" cy="148.0" r="7.3"/>
<circle cx="1580.5" cy="148.0" r="7.3"/>
<circle cx="1583.2" cy="148.0" r="7.3"/>
<circle cx="1585.5" cy="148.0" r="7.3"/>
<circle cx="1587.7" cy="148.0" r="7.3"/>
<circle cx="1597.9" cy="148.0" r="7.3"/>
<circle cx="1574.1" cy="190.0" r="7.3"/>
<circle cx="1578.6" cy="190.0" r="7.3"/>
<circle cx="1582.0" cy="190.0" r="7.3"/>
<circle cx="1587.7" cy="190.0" r="7.3"/>
<circle cx="1604.7" cy="190.0" r="7.3"/>
<circle cx="1572.0" cy="232.1" r="7.3"/>
<circle cx="1576.0" cy="232.1" r="7.3"/>
<circle cx="1578.7" cy="232.1" r="7.3"/>
<circle cx="1588.3" cy="274.3" r="7.3"/>
<circle cx="1604.3" cy="274.3" r="7.3"/>
<circle cx="1596.8" cy="358.7" r="7.3"/>
<circle cx="1610.9" cy="401.0" r="7.3"/>
<circle cx="1613.3" cy="401.0" r="7.3"/>
<circle cx="1570.2" cy="485.4" r="7.3"/>
<circle cx="1576.3" cy="527.6" r="7.3"/>
</g>
<rect x="1216.4" y="232.4" width="52.4" height="253.3" fill="none" stroke="#404242" stroke-width="4.5"/>
<rect x="1565.5" y="148.3" width="52.4" height="115.4" fill="none" stroke="#404242" stroke-width="4.5"/>
<rect x="1068.2" y="65.2" width="698.0" height="886.4" fill="none" stroke="#111" stroke-width="1.5"/>
<g stroke="#0a0a0a" stroke-width="1.6">
<line x1="1062.4" x2="1068.2" y1="857.0" y2="857.0"/>
<line x1="1062.4" x2="1068.2" y1="738.8" y2="738.8"/>
<line x1="1062.4" x2="1068.2" y1="620.6" y2="620.6"/>
<line x1="1062.4" x2="1068.2" y1="502.4" y2="502.4"/>
<line x1="1062.4" x2="1068.2" y1="384.3" y2="384.3"/>
<line x1="1062.4" x2="1068.2" y1="266.1" y2="266.1"/>
<line x1="1062.4" x2="1068.2" y1="147.9" y2="147.9"/>
<line x1="1062.4" x2="1068.2" y1="231.5" y2="231.5"/>
<line x1="1242.6" x2="1242.6" y1="951.65" y2="957.65"/>
<line x1="1591.7" x2="1591.7" y1="951.65" y2="957.65"/>
</g>
<text transform="translate(1056.9,870.9) scale(0.95,1.022)" font-size="35.3" text-anchor="end" letter-spacing="1.03" fill="#000" stroke="#000" stroke-width="0.7">40%</text>
<text transform="translate(1056.9,752.7) scale(0.95,1.022)" font-size="35.3" text-anchor="end" letter-spacing="1.03" fill="#000" stroke="#000" stroke-width="0.7">50%</text>
<text transform="translate(1056.9,634.5) scale(0.95,1.022)" font-size="35.3" text-anchor="end" letter-spacing="1.03" fill="#000" stroke="#000" stroke-width="0.7">60%</text>
<text transform="translate(1056.9,516.3) scale(0.95,1.022)" font-size="35.3" text-anchor="end" letter-spacing="1.03" fill="#000" stroke="#000" stroke-width="0.7">70%</text>
<text transform="translate(1056.9,398.2) scale(0.95,1.022)" font-size="35.3" text-anchor="end" letter-spacing="1.03" fill="#000" stroke="#000" stroke-width="0.7">80%</text>
<text transform="translate(1056.9,280.0) scale(0.95,1.022)" font-size="35.3" text-anchor="end" letter-spacing="1.03" fill="#000" stroke="#000" stroke-width="0.7">90%</text>
<text transform="translate(1056.9,161.8) scale(0.95,1.022)" font-size="35.3" text-anchor="end" letter-spacing="1.03" fill="#000" stroke="#000" stroke-width="0.7">100%</text>
<text transform="translate(1056.9,245.4) scale(0.95,1.022)" font-size="35.3" text-anchor="end" letter-spacing="1.03" fill="#cc4e00" stroke="#cc4e00" stroke-width="0.7">92.9%</text>
<text transform="translate(1242.6,981.9) scale(1,1.025)" font-size="25.7" text-anchor="middle" fill="#000" stroke="#000" stroke-width="0.45">Human + black-box AI</text>
<text transform="translate(1591.7,981.9) scale(1,1.025)" font-size="25.7" text-anchor="middle" fill="#000" stroke="#000" stroke-width="0.45">Human + explainable AI</text>
<text transform="translate(943.0,509.1) rotate(-90) scale(1,1.03)" font-size="35.3" text-anchor="middle" fill="#000" stroke="#000" stroke-width="0.6">Defect detection rate</text>
<path d="M1242.5,137.3 C1242.8,131 1243.3,128 1244.3,126.3 C1245.1,124.8 1246.1,124.5 1248.0,124.5 L1411.8,124.5 C1414.8,124.5 1416.3,122.7 1416.5,112.1 M1591.5,137.3 C1591.2,131 1590.7,128 1589.7,126.3 C1588.9,124.8 1587.9,124.5 1586.0,124.5 L1422.2,124.5 C1419.2,124.5 1417.7,122.7 1417.5,112.1" fill="none" stroke="#000" stroke-width="3.1" stroke-linecap="round" stroke-linejoin="round"/>
<text y="105" font-family="'Liberation Serif', serif" font-size="31.8" stroke="#000" stroke-width="0.25"><tspan x="1271.6" font-style="italic">t </tspan><tspan x="1285.8" y="106.7" font-size="30" textLength="22.6" lengthAdjust="spacingAndGlyphs" stroke="#000" stroke-width="0.7">=</tspan><tspan y="105" font-size="1"> </tspan><tspan x="1312.0" y="105">2.876</tspan><tspan x="1384.4 1397.5" y="99.7" font-family="'Liberation Sans', sans-serif" font-weight="bold" font-size="27.5">**</tspan><tspan y="105" font-size="1"> </tspan><tspan x="1416.8" y="105">(</tspan><tspan x="1426.6" font-style="italic">P </tspan><tspan x="1451.2" y="106.7" font-size="30" textLength="22.6" lengthAdjust="spacingAndGlyphs" stroke="#000" stroke-width="0.7">=</tspan><tspan y="105" font-size="1"> </tspan><tspan x="1478.2" y="105">0.003)</tspan></text>
</g>
<text transform="translate(2.2,30.9) scale(1.05,1.03)" font-size="39" font-weight="bold" fill="#000" stroke="#000" stroke-width="0.3">A</text>
<text transform="translate(911.2,30.9) scale(1,1.03)" font-size="39" font-weight="bold" fill="#000" stroke="#000" stroke-width="0.3">B</text>
<rect x="663.4" y="1006.4" width="609.3" height="49.3" rx="1.5" fill="#fff" stroke="#cdcdcd" stroke-width="1.5"/>
<line x1="674.8" x2="732.7" y1="1028.6" y2="1028.6" stroke="#cc4e00" stroke-width="4.45" stroke-dasharray="17.6 7.83"/>
<text transform="translate(756.0,1040.1) scale(1,0.985)" font-size="28.72" fill="#000" stroke="#000" stroke-width="0.5">Performance of standalone AI algorithm</text>
</svg>
</body>
</html>
